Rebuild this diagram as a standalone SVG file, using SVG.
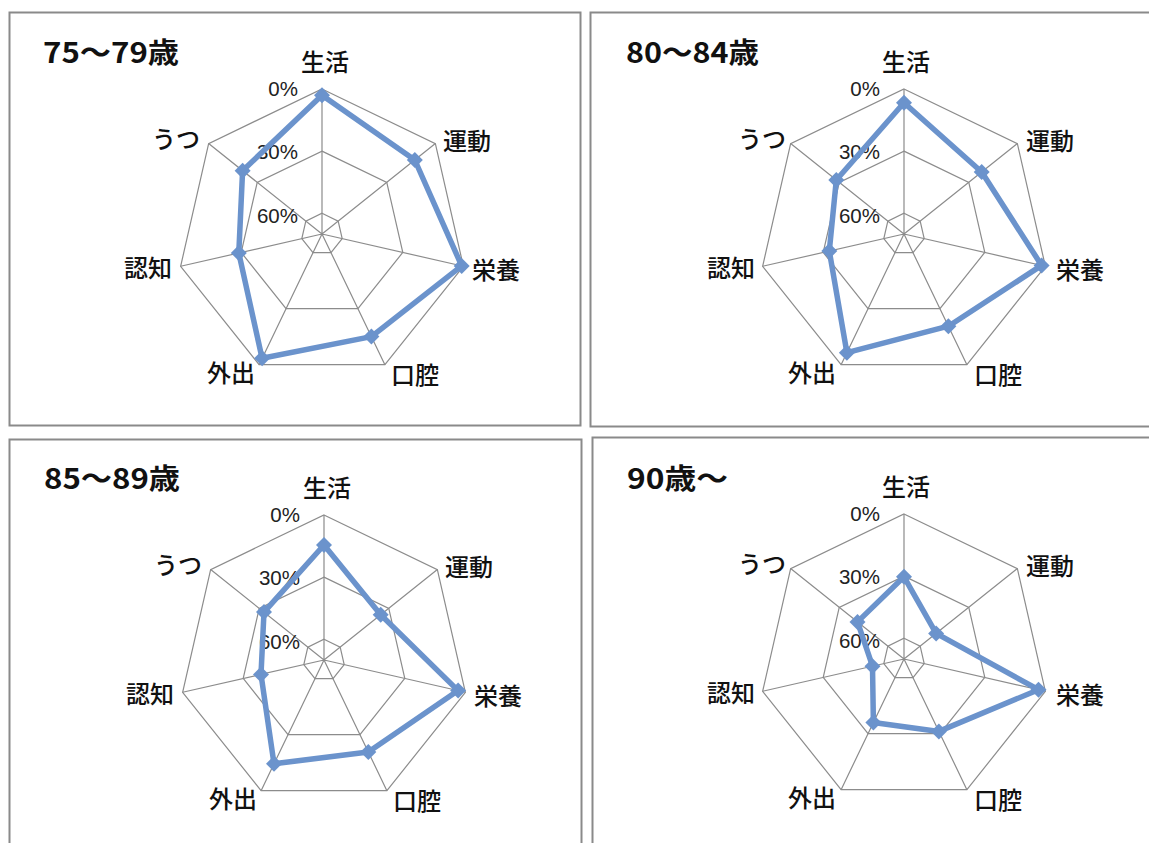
<svg xmlns="http://www.w3.org/2000/svg" xmlns:xlink="http://www.w3.org/1999/xlink" width="1149" height="843" viewBox="0 0 1149 843">
<style>
.frame{fill:#fff;stroke:#8a8a8a;stroke-width:2}
.grid{fill:none;stroke:#8c8c8c;stroke-width:1.2}
.series{fill:none;stroke:#6b93cc;stroke-width:5.5;stroke-linejoin:round}
.mk{fill:#6b93cc}
.title{font-family:"Noto Sans CJK JP","Noto Sans CJK SC",sans-serif;font-weight:700;font-size:28px;fill:#111}
.cat{font-family:"Noto Sans CJK JP","Noto Sans CJK SC",sans-serif;font-weight:500;font-size:24px;fill:#111}
.pct{font-family:"Liberation Sans",Arial,sans-serif;font-size:20.5px;fill:#222;text-anchor:end}
</style>
<defs>
<g id="grid" class="grid">
<polygon points="0,-145 113.37,-90.41 141.36,32.27 62.91,130.64 -62.91,130.64 -141.36,32.27 -113.37,-90.41"/>
<polygon points="0,-82.86 64.78,-51.66 80.78,18.44 35.95,74.65 -35.95,74.65 -80.78,18.44 -64.78,-51.66"/>
<polygon points="0,-20.71 16.19,-12.91 20.19,4.61 8.99,18.66 -8.99,18.66 -20.19,4.61 -16.19,-12.91"/>
<path d="M0,0L0,-145M0,0L113.37,-90.41M0,0L141.36,32.27M0,0L62.91,130.64M0,0L-62.91,130.64M0,0L-141.36,32.27M0,0L-113.37,-90.41"/>
</g>
<path id="dm" class="mk" d="M0,-8L8,0L0,8L-8,0Z"/>
</defs>
<rect width="1149" height="843" fill="#fff"/>

<g id="panel-75-79">
<rect class="frame" x="9.5" y="12.5" width="571" height="413"/>
<text class="title" x="43" y="63" textLength="136" lengthAdjust="spacingAndGlyphs">75～79歳</text>
<g transform="translate(322,234)">
<use xlink:href="#grid"/>
<text class="cat" x="3" y="-163" text-anchor="middle">生活</text>
<text class="cat" x="121" y="-84">運動</text>
<text class="cat" x="150" y="45">栄養</text>
<text class="cat" x="69" y="150">口腔</text>
<text class="cat" x="-67" y="148" text-anchor="end">外出</text>
<text class="cat" x="-150" y="43" text-anchor="end">認知</text>
<text class="cat" x="-122" y="-86" text-anchor="end">うつ</text>
<text class="pct" x="-24" y="-138">0%</text>
<text class="pct" x="-24" y="-75">30%</text>
<text class="pct" x="-24" y="-11">60%</text>
<polygon class="series" points="0,-138.8 92.8,-74 139.7,31.9 49.4,102.6 -59.9,124.3 -83.2,19 -79.4,-63.3"/>
<use xlink:href="#dm" x="0" y="-138.8"/><use xlink:href="#dm" x="92.8" y="-74"/><use xlink:href="#dm" x="139.7" y="31.9"/><use xlink:href="#dm" x="49.4" y="102.6"/><use xlink:href="#dm" x="-59.9" y="124.3"/><use xlink:href="#dm" x="-83.2" y="19"/><use xlink:href="#dm" x="-79.4" y="-63.3"/>
</g>
</g>

<g id="panel-80-84">
<rect class="frame" x="590.5" y="12.5" width="600" height="414"/>
<text class="title" x="626" y="63" textLength="133" lengthAdjust="spacingAndGlyphs">80～84歳</text>
<g transform="translate(904,234)">
<use xlink:href="#grid"/>
<text class="cat" x="2" y="-163" text-anchor="middle">生活</text>
<text class="cat" x="122" y="-84">運動</text>
<text class="cat" x="152" y="45">栄養</text>
<text class="cat" x="70" y="150">口腔</text>
<text class="cat" x="-68" y="148" text-anchor="end">外出</text>
<text class="cat" x="-149" y="43" text-anchor="end">認知</text>
<text class="cat" x="-118" y="-86" text-anchor="end">うつ</text>
<text class="pct" x="-24" y="-138">0%</text>
<text class="pct" x="-24" y="-75">30%</text>
<text class="pct" x="-24" y="-11">60%</text>
<polygon class="series" points="0,-131.3 77.7,-62 137.6,31.4 44.4,92.2 -57.1,118.7 -74.7,17 -67.7,-54"/>
<use xlink:href="#dm" x="0" y="-131.3"/><use xlink:href="#dm" x="77.7" y="-62"/><use xlink:href="#dm" x="137.6" y="31.4"/><use xlink:href="#dm" x="44.4" y="92.2"/><use xlink:href="#dm" x="-57.1" y="118.7"/><use xlink:href="#dm" x="-74.7" y="17"/><use xlink:href="#dm" x="-67.7" y="-54"/>
</g>
</g>

<g id="panel-85-89">
<rect class="frame" x="9.5" y="439.5" width="572" height="450"/>
<text class="title" x="44" y="489" textLength="136" lengthAdjust="spacingAndGlyphs">85～89歳</text>
<g transform="translate(324,660)">
<use xlink:href="#grid"/>
<text class="cat" x="3" y="-163" text-anchor="middle">生活</text>
<text class="cat" x="121" y="-84">運動</text>
<text class="cat" x="150" y="45">栄養</text>
<text class="cat" x="69" y="150">口腔</text>
<text class="cat" x="-67" y="148" text-anchor="end">外出</text>
<text class="cat" x="-150" y="43" text-anchor="end">認知</text>
<text class="cat" x="-122" y="-86" text-anchor="end">うつ</text>
<text class="pct" x="-24" y="-138">0%</text>
<text class="pct" x="-24" y="-75">30%</text>
<text class="pct" x="-24" y="-11">60%</text>
<polygon class="series" points="0,-115 56.7,-45.2 134.1,30.6 44.3,92 -50,103.8 -63,14.4 -60,-47.9"/>
<use xlink:href="#dm" x="0" y="-115"/><use xlink:href="#dm" x="56.7" y="-45.2"/><use xlink:href="#dm" x="134.1" y="30.6"/><use xlink:href="#dm" x="44.3" y="92"/><use xlink:href="#dm" x="-50" y="103.8"/><use xlink:href="#dm" x="-63" y="14.4"/><use xlink:href="#dm" x="-60" y="-47.9"/>
</g>
</g>

<g id="panel-90">
<rect class="frame" x="592.5" y="437.5" width="600" height="450"/>
<text class="title" x="627" y="489" textLength="101" lengthAdjust="spacingAndGlyphs">90歳～</text>
<g transform="translate(904,659)">
<use xlink:href="#grid"/>
<text class="cat" x="2" y="-163" text-anchor="middle">生活</text>
<text class="cat" x="122" y="-84">運動</text>
<text class="cat" x="152" y="45">栄養</text>
<text class="cat" x="70" y="150">口腔</text>
<text class="cat" x="-68" y="148" text-anchor="end">外出</text>
<text class="cat" x="-149" y="43" text-anchor="end">認知</text>
<text class="cat" x="-118" y="-86" text-anchor="end">うつ</text>
<text class="pct" x="-24" y="-138">0%</text>
<text class="pct" x="-24" y="-75">30%</text>
<text class="pct" x="-24" y="-11">60%</text>
<polygon class="series" points="0,-82.2 32.1,-25.6 134.5,30.7 34.9,72.4 -30.6,63.6 -31.5,7.2 -46.5,-37.1"/>
<use xlink:href="#dm" x="0" y="-82.2"/><use xlink:href="#dm" x="32.1" y="-25.6"/><use xlink:href="#dm" x="134.5" y="30.7"/><use xlink:href="#dm" x="34.9" y="72.4"/><use xlink:href="#dm" x="-30.6" y="63.6"/><use xlink:href="#dm" x="-31.5" y="7.2"/><use xlink:href="#dm" x="-46.5" y="-37.1"/>
</g>
</g>
</svg>
